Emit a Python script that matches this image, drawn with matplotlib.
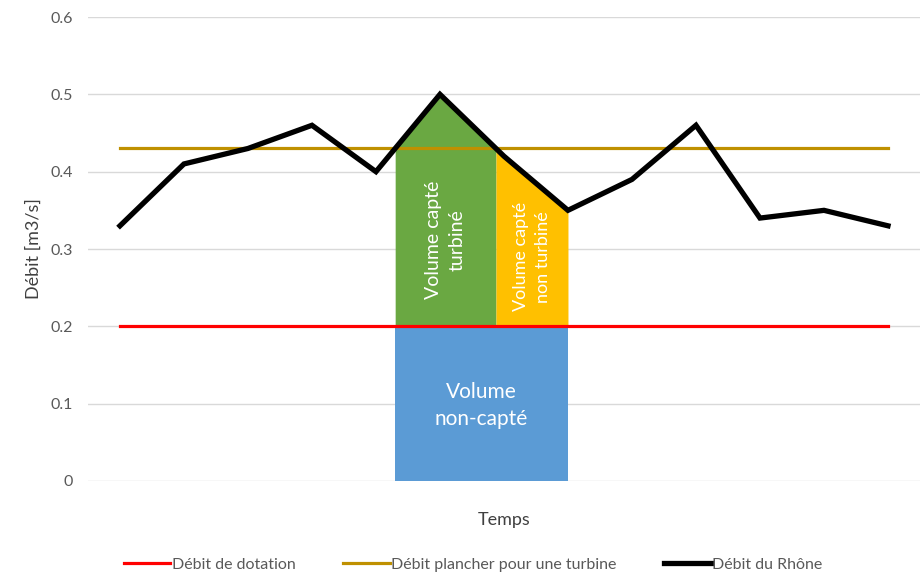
import matplotlib.pyplot as plt
import numpy as np

plt.rcParams['font.family'] = ['Lato', 'DejaVu Sans']

# data
rhone = [0.33, 0.41, 0.43, 0.46, 0.40, 0.50, 0.42, 0.35, 0.39, 0.46, 0.34, 0.35, 0.33]
dotation = 0.20
plancher = 0.43
fill_end = 7  # index where the highlighted period ends
yticks = [0, 0.1, 0.2, 0.3, 0.4, 0.5, 0.6]

x = np.arange(len(rhone))
y = np.array(rhone, dtype=float)

fig = plt.figure(figsize=(9.21, 5.75), dpi=100)
ax = fig.add_axes([0.0955, 0.1635, 0.9034, 0.8069])

# crossings of the river flow with the turbine threshold
x1 = 4 + (plancher - y[4]) / (y[5] - y[4])
x2 = 5 + (plancher - y[5]) / (y[6] - y[5])

xs_g = np.concatenate(([x1], x[(x > x1) & (x < x2)], [x2]))
ys_g = np.interp(xs_g, x, y)
ax.fill_between(xs_g, dotation, ys_g, color='#6aa842', lw=0, zorder=2)

xs_y = np.concatenate(([x2], x[(x > x2) & (x <= fill_end)]))
ys_y = np.interp(xs_y, x, y)
ax.fill_between(xs_y, dotation, ys_y, color='#ffc000', lw=0, zorder=2)

ax.fill_between([x1, fill_end], 0, dotation, color='#5b9bd5', lw=0, zorder=2)

ax.plot(x, [dotation] * len(x), color='#ff0000', lw=2.3, zorder=3, label='Débit de dotation')
ax.plot(x, [plancher] * len(x), color='#bf9000', lw=2.3, zorder=3,
        label='Débit plancher pour une turbine')
ax.plot(x, y, color='black', lw=3.8, zorder=4, solid_joinstyle='miter',
        label='Débit du Rhône')

ax.text((x1 + x2) / 2, 0.312, 'Volume capté\nturbiné', rotation=90, color='white',
        ha='center', va='center', fontsize=14, linespacing=1.45, zorder=5)
ax.text((x2 + fill_end) / 2, 0.29, 'Volume capté\nnon turbiné', rotation=90, color='white',
        ha='center', va='center', fontsize=13, linespacing=1.5, zorder=5)
ax.text((x1 + fill_end) / 2, 0.098, 'Volume\nnon-capté', color='white',
        ha='center', va='center', fontsize=15, linespacing=1.45, zorder=5)

ax.set_xlim(-0.5, len(x) - 0.5)
ax.set_ylim(0, 0.6)
ax.set_yticks(yticks)
ax.set_yticklabels([f'{t:g}' for t in yticks])
ax.set_xticks([])
ax.grid(axis='y', color='#d9d9d9', lw=1)
ax.set_axisbelow(True)
for s in ax.spines.values():
    s.set_visible(False)
ax.tick_params(axis='y', length=0, pad=11, labelsize=11.5, labelcolor='#595959')

ax.set_ylabel('Débit [m3/s]', fontsize=13, color='#404040', labelpad=6)
ax.set_xlabel('Temps', fontsize=13, color='#404040', labelpad=22)

ax.legend(loc='center', bbox_to_anchor=(0.463, -0.181), ncol=3, frameon=False,
          fontsize=11.5, handlelength=2.9, handletextpad=0.1, columnspacing=3.0,
          labelcolor='#595959')

fig.savefig('out.png', dpi=100)
